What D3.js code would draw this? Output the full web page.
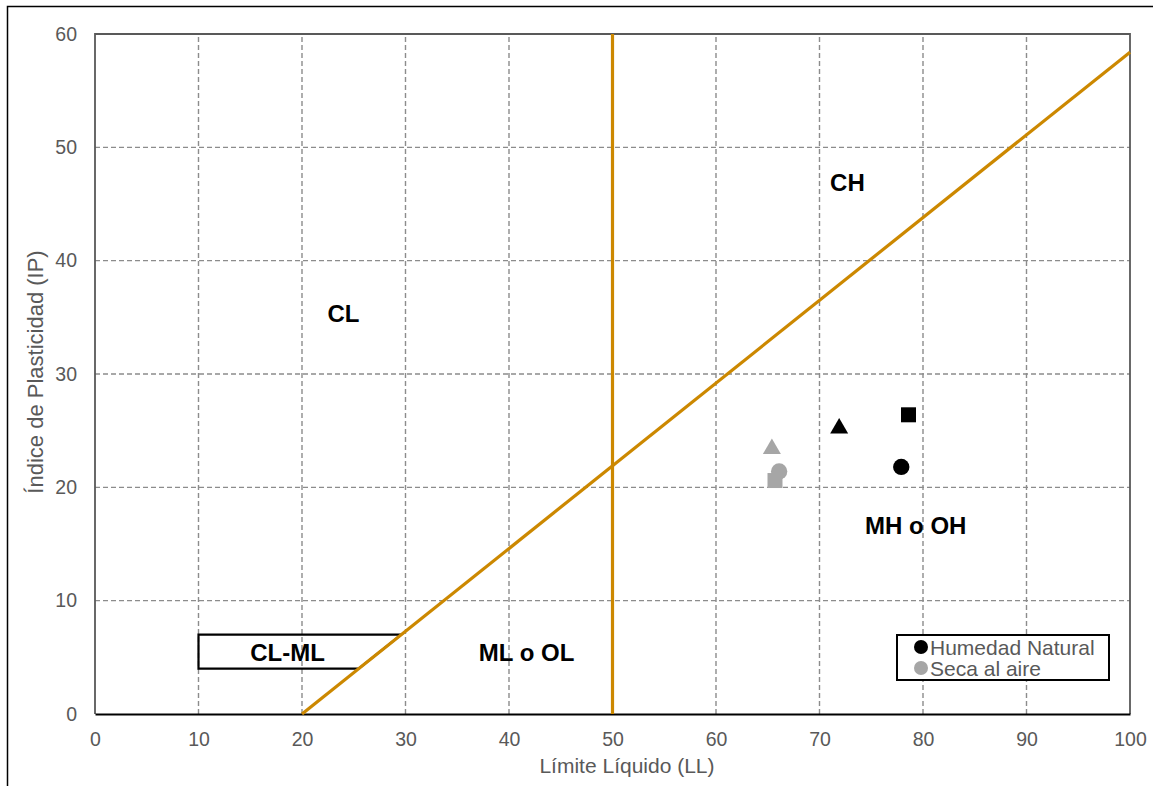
<!DOCTYPE html>
<html>
<head>
<meta charset="utf-8">
<script src="https://cdn.jsdelivr.net/npm/d3@7"></script>
<style>
  html, body { margin: 0; padding: 0; background: #fff; }
  svg { display: block; font-family: Arial, "Liberation Sans", sans-serif; }
</style>
</head>
<body>
<svg id="chart" width="1153" height="786"></svg>
<script>
// Plasticity chart (Casagrande): liquid limit vs plasticity index
const xTicks = [0, 10, 20, 30, 40, 50, 60, 70, 80, 90, 100];
const yTicks = [0, 10, 20, 30, 40, 50, 60];

// Samples at natural moisture (black) and air-dried (grey)
const humedadLL = [77.9, 78.6, 71.9];
const humedadIP = [21.8, 26.4, 25.2];
const humedadShape = ["circle", "square", "triangle"];

const secaLL = [66.1, 65.7, 65.4];
const secaIP = [21.4, 20.6, 23.4];
const secaShape = ["circle", "square", "triangle"];

// Zone labels: [text, LL, IP]
const zoneText = ["CH", "CL", "MH o OH", "ML o OL", "CL-ML"];
const zoneLL = [72.7, 24, 79.3, 41.7, 18.6];
const zoneIP = [46.9, 35.3, 16.6, 5.4, 5.4];

// A-line: IP = 0.73 (LL - 20); U-boundary at LL = 50
const aLineLL = [20, 100];
const bLineLL = 50;
// CL-ML band: 4 <= IP <= 7 starting at LL = 10
const clmlLL = 10;
const clmlIP = [4, 7];

const legendLabels = ["Humedad Natural", "Seca al aire"];
const legendColors = ["#000000", "#a6a6a6"];

const svg = d3.select("#chart");
const margin = { left: 95, top: 34, right: 1153 - 1130, bottom: 786 - 714 };
const W = 1153, H = 786;

const x = d3.scaleLinear().domain([0, 100]).range([margin.left, W - margin.right]);
const y = d3.scaleLinear().domain([0, 60]).range([H - margin.bottom, margin.top]);
const aLine = ll => 0.73 * (ll - 20);

const orange = "#cc8800";
const axisGrey = "#595959";

// outer frame
svg.append("rect").attr("x", 7.5).attr("y", 6.5).attr("width", 1200).attr("height", 900)
  .attr("fill", "none").attr("stroke", "#000").attr("stroke-width", 1.5);

// gridlines
const grid = svg.append("g");
grid.selectAll("line.v").data(xTicks.filter(d => d > 0 && d < 100)).join("line")
  .attr("x1", d => x(d)).attr("x2", d => x(d))
  .attr("y1", y(0)).attr("y2", y(60))
  .attr("stroke", "#8c8c8c").attr("stroke-width", 1.4).attr("stroke-dasharray", "5,3");
grid.selectAll("line.h").data(yTicks.filter(d => d > 0 && d < 60)).join("line")
  .attr("x1", x(0)).attr("x2", x(100))
  .attr("y1", d => y(d)).attr("y2", d => y(d))
  .attr("stroke", "#8c8c8c").attr("stroke-width", 1.4).attr("stroke-dasharray", "5,3");

// plot border (top, left, right grey)
svg.append("path")
  .attr("d", `M${x(0)},${y(0)}V${y(60)}H${x(100)}V${y(0)}`)
  .attr("fill", "none").attr("stroke", axisGrey).attr("stroke-width", 1.8);

// axes
const xAxis = svg.append("g").attr("transform", `translate(0,${y(0)})`)
  .call(d3.axisBottom(x).tickValues(xTicks).tickSize(0).tickPadding(18));
xAxis.select(".domain").attr("stroke", "#000").attr("stroke-width", 1.8);
xAxis.selectAll("text").attr("fill", axisGrey).attr("font-size", 19.5)
  .attr("font-family", "Arial, 'Liberation Sans', sans-serif");

const yAxis = svg.append("g").attr("transform", `translate(${x(0)},0)`)
  .call(d3.axisLeft(y).tickValues(yTicks).tickSize(0).tickPadding(18));
yAxis.select(".domain").remove();
yAxis.selectAll("text").attr("fill", axisGrey).attr("font-size", 19.5)
  .attr("font-family", "Arial, 'Liberation Sans', sans-serif");

// axis titles
svg.append("text").attr("x", 627).attr("y", 765)
  .attr("text-anchor", "middle").attr("dominant-baseline", "central")
  .attr("fill", axisGrey).attr("font-size", 21)
  .text("Límite Líquido (LL)");
svg.append("text")
  .attr("transform", `translate(35,372) rotate(-90)`)
  .attr("text-anchor", "middle").attr("dominant-baseline", "central")
  .attr("fill", axisGrey).attr("font-size", 22)
  .text("Índice de Plasticidad (IP)");

// CL-ML band, cut by the A-line
const llAt = ip => ip / 0.73 + 20;
svg.append("path")
  .attr("d", `M${x(clmlLL)},${y(clmlIP[0])}V${y(clmlIP[1])}H${x(llAt(clmlIP[1]))}L${x(llAt(clmlIP[0]))},${y(clmlIP[0])}Z`)
  .attr("fill", "none").attr("stroke", "#000").attr("stroke-width", 2.2);

// B-line and A-line
svg.append("line").attr("x1", x(bLineLL)).attr("x2", x(bLineLL))
  .attr("y1", y(0)).attr("y2", y(60))
  .attr("stroke", orange).attr("stroke-width", 3.2);
svg.append("line")
  .attr("x1", x(aLineLL[0])).attr("y1", y(aLine(aLineLL[0])))
  .attr("x2", x(aLineLL[1])).attr("y2", y(aLine(aLineLL[1])))
  .attr("stroke", orange).attr("stroke-width", 3.2);

// zone labels
svg.append("g").selectAll("text").data(zoneText).join("text")
  .attr("x", (d, i) => x(zoneLL[i])).attr("y", (d, i) => y(zoneIP[i]))
  .attr("text-anchor", "middle").attr("dominant-baseline", "central")
  .attr("font-size", 24).attr("font-weight", "bold").attr("fill", "#000")
  .text(d => d);

// sample markers
const symType = { circle: d3.symbolCircle, square: d3.symbolSquare, triangle: d3.symbolTriangle };
const symSize = { circle: 210, square: 225, triangle: 140 };
function drawSeries(ll, ip, shapes, color) {
  svg.append("g").selectAll("path").data(ll).join("path")
    .attr("transform", (d, i) => `translate(${x(d)},${y(ip[i])})`)
    .attr("d", (d, i) => d3.symbol().type(symType[shapes[i]]).size(symSize[shapes[i]])())
    .attr("fill", color);
}
drawSeries(secaLL, secaIP, secaShape, legendColors[1]);
drawSeries(humedadLL, humedadIP, humedadShape, legendColors[0]);

// legend
const lg = svg.append("g");
lg.append("rect").attr("x", 897).attr("y", 635).attr("width", 212).attr("height", 45)
  .attr("fill", "#fff").attr("stroke", "#000").attr("stroke-width", 2);
legendLabels.forEach((t, i) => {
  const cy = 647 + i * 21;
  lg.append("circle").attr("cx", 921).attr("cy", cy).attr("r", 7).attr("fill", legendColors[i]);
  lg.append("text").attr("x", 930).attr("y", cy).attr("dominant-baseline", "central")
    .attr("font-size", 21).attr("fill", axisGrey).text(t);
});
</script>
</body>
</html>
